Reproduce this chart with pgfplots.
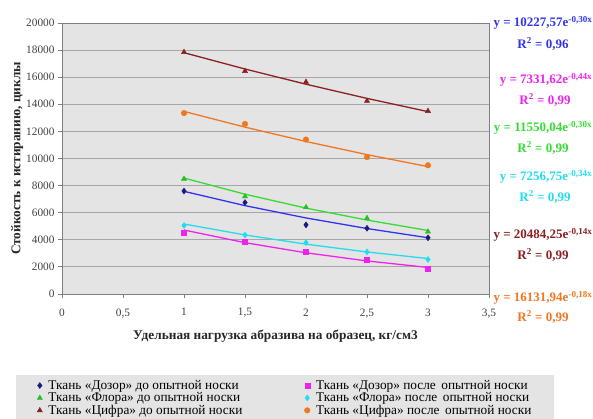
\documentclass[border=0pt]{standalone}
\usepackage{fontspec}
\setmainfont{Liberation Serif}
\usepackage{pgfplots}
\pgfplotsset{compat=1.18}
\definecolor{bgg}{HTML}{E4E4E4}
\definecolor{gridc}{HTML}{A6A6A6}
\definecolor{axc}{HTML}{7F7F7F}
\definecolor{navy}{HTML}{1A1A80}
\definecolor{tblue}{HTML}{3333EE}
\definecolor{tmag}{HTML}{EE22EE}
\definecolor{tgreen}{HTML}{33DD33}
\definecolor{tcyan}{HTML}{22DDEE}
\definecolor{tdred}{HTML}{8B2020}
\definecolor{torange}{HTML}{EE7722}
\begin{document}
\begin{tikzpicture}[x=1pt,y=1pt]
\useasboundingbox (0,0) rectangle (593,419);
\clip (0,0) rectangle (593,419);
\begin{axis}[
  at={(62pt,125pt)}, anchor=south west,
  scale only axis, width=427pt, height=271pt,
  xmin=0, xmax=3.5, ymin=0, ymax=20000,
  xtick={0,0.5,1,1.5,2,2.5,3,3.5},
  ytick={0,2000,...,20000},
  scaled y ticks=false,
  /pgf/number format/.cd, use comma, 1000 sep={}, assume math mode=true,
  /pgfplots/.cd,
  axis background/.style={fill=bgg},
  axis line style={axc, line width=0.8pt},
  ymajorgrids, major grid style={gridc, line width=0.9pt},
  tick style={axc, line width=0.8pt},
  tick align=outside, major tick length=4pt,
  xtick pos=bottom, ytick pos=left,
  ticklabel style={font=\fontsize{11.3}{13}\selectfont, text=black!75},
  xticklabel style={yshift=-7pt},
  xlabel={\textbf{Удельная нагрузка абразива на образец, кг/см3}},
  ylabel={\textbf{Стойкость к истиранию, циклы}},
  label style={font=\fontsize{13.3}{15}\selectfont, text=black!85},
  xlabel style={at={(axis description cs:0.5,-0.155)}, anchor=center},
  ylabel style={at={(axis description cs:-0.105,0.5)}, anchor=center, rotate=0},
  legend columns=2,
  legend style={at={(axis description cs:-0.1077,-0.2989)}, anchor=north west,
    fill=bgg, draw=none, font=\fontsize{13.3}{14}\selectfont,
    inner xsep=21pt, inner ysep=4.5pt,
    nodes={inner ysep=0.5pt},
    row sep=0.8pt,
    /tikz/every odd column/.append style={column sep=4pt},
    /tikz/every even column/.append style={column sep=60pt}},
  legend cell align=left,
  clip=false,
]
% trendlines
\addplot[tblue, line width=1.3pt, forget plot] coordinates {(1,7576.8) (1.5,6521.3) (2,5613.0) (2.5,4831.2) (3,4151.1)};
\addplot[tmag, line width=1.3pt, forget plot] coordinates {(1,4721.8) (1.5,3789.4) (2,3041.0) (2.5,2440.5) (3,1958.5)};
\addplot[tgreen, line width=1.3pt, forget plot] coordinates {(1,8556.5) (1.5,7364.6) (2,6338.8) (2.5,5455.9) (3,4687.8)};
\addplot[tcyan, line width=1.3pt, forget plot] coordinates {(1,5165.1) (1.5,4357.7) (2,3676.4) (2.5,3101.6) (3,2616.8)};
\addplot[tdred, line width=1.3pt, forget plot] coordinates {(1,17808.2) (1.5,16604.2) (2,15481.7) (2.5,14435.0) (3,13459.1)};
\addplot[torange, line width=1.3pt, forget plot] coordinates {(1,13474.5) (1.5,12314.7) (2,11254.9) (2.5,10286.2) (3,9400.9)};
% data
\pgfplotsset{mylegimg/.style={legend image code/.code={\draw[##1] plot coordinates {(0.12cm,0cm)};}}}
\addplot[only marks, mark=diamond*, mark size=3pt, navy, mylegimg] coordinates {(1,7600) (1.5,6750) (2,5100) (2.5,4850) (3,4150)};
\addlegendentry{Ткань «Дозор» до опытной носки}
\addplot[only marks, mark=square*, mark size=2.5pt, tmag, mylegimg] coordinates {(1,4550) (1.5,3850) (2,3100) (2.5,2550) (3,1900)};
\addlegendentry{Ткань «Дозор» после\, опытной носки}
\addplot[only marks, mark=triangle*, mark size=3pt, tgreen!85!black, mylegimg] coordinates {(1,8500) (1.5,7200) (2,6400) (2.5,5600) (3,4600)};
\addlegendentry{Ткань «Флора» до опытной носки}
\addplot[only marks, mark=diamond*, mark size=3pt, tcyan, mylegimg] coordinates {(1,5050) (1.5,4350) (2,3800) (2.5,3100) (3,2550)};
\addlegendentry{Ткань «Флора» после\, опытной носки}
\addplot[only marks, mark=triangle*, mark size=3pt, tdred, mylegimg] coordinates {(1,17850) (1.5,16450) (2,15650) (2.5,14250) (3,13500)};
\addlegendentry{Ткань «Цифра» до опытной носки}
\addplot[only marks, mark=*, mark size=2.8pt, torange, mylegimg] coordinates {(1,13350) (1.5,12550) (2,11400) (2.5,10100) (3,9500)};
\addlegendentry{Ткань «Цифра» после\, опытной носки}
\end{axis}
\begin{scope}[every node/.style={font=\fontsize{13}{14}\selectfont\bfseries, align=center, inner sep=0pt}]
\node[text=tblue] at (543,396) {y = 10227,57e\textsuperscript{-0,30x}};
\node[text=tblue] at (543,375) {R\textsuperscript{2} = 0,96};
\node[text=tmag] at (546,339) {y = 7331,62e\textsuperscript{-0,44x}};
\node[text=tmag] at (545,319) {R\textsuperscript{2} = 0,99};
\node[text=tgreen] at (543,291) {y = 11550,04e\textsuperscript{-0,30x}};
\node[text=tgreen] at (543,271) {R\textsuperscript{2} = 0,99};
\node[text=tcyan] at (546,242) {y = 7256,75e\textsuperscript{-0,34x}};
\node[text=tcyan] at (545,222) {R\textsuperscript{2} = 0,99};
\node[text=tdred] at (543,184) {y = 20484,25e\textsuperscript{-0,14x}};
\node[text=tdred] at (543,164) {R\textsuperscript{2} = 0,99};
\node[text=torange] at (543,121) {y = 16131,94e\textsuperscript{-0,18x}};
\node[text=torange] at (543,102) {R\textsuperscript{2} = 0,99};
\end{scope}
\end{tikzpicture}
\end{document}
